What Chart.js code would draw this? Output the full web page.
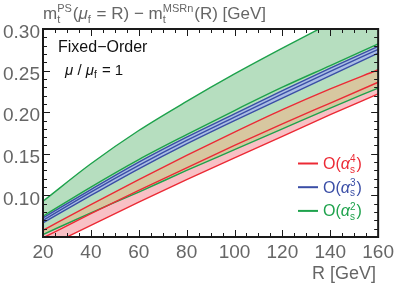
<!DOCTYPE html>
<html>
<head>
<meta charset="utf-8">
<script src="https://cdn.jsdelivr.net/npm/chart.js@4.4.0/dist/chart.umd.min.js"></script>
<style>
  html, body { margin: 0; padding: 0; background: #fff; }
  #wrap { width: 398px; height: 283px; }
</style>
</head>
<body>
<div id="wrap"><canvas id="chart"></canvas></div>
<script>
// R values [GeV] and the three orders (upper / central / lower of each band)
const energies = [20, 40, 60, 80, 100, 120, 140, 160];
const o2Upper   = [0.093, 0.138, 0.178, 0.213, 0.246, 0.277, 0.307, 0.336];
const o2Central = [0.075, 0.110, 0.143, 0.173, 0.202, 0.230, 0.256, 0.282];
const o2Lower   = [0.053, 0.079, 0.104, 0.130, 0.155, 0.180, 0.205, 0.229];
const o3Upper   = [0.073, 0.107, 0.140, 0.170, 0.198, 0.226, 0.253, 0.279];
const o3Central = [0.070, 0.104, 0.136, 0.166, 0.194, 0.222, 0.249, 0.2755];
const o3Lower   = [0.067, 0.100, 0.132, 0.162, 0.190, 0.217, 0.244, 0.271];
const o4Upper   = [0.058, 0.089, 0.119, 0.148, 0.176, 0.203, 0.228, 0.251];
const o4Central = [0.049, 0.078, 0.106, 0.133, 0.160, 0.186, 0.211, 0.236];
const o4Lower   = [0.036, 0.064, 0.092, 0.119, 0.145, 0.171, 0.197, 0.222];
const xTicks = [20, 40, 60, 80, 100, 120, 140, 160];
const yTicks = [0.10, 0.15, 0.20, 0.25, 0.30];

const GREEN = "#1ea24c", RED = "#ec2a35", BLUE = "#3a4ea6";
const GRAY = "#666666";
const FONT = "'Liberation Sans', Arial, sans-serif";

const pts = arr => energies.map((r, i) => ({ x: r, y: arr[i] }));

function line(label, arr, color, order, extra) {
  return Object.assign({
    label: label,
    data: pts(arr),
    borderColor: color,
    borderWidth: 1.4,
    pointRadius: 0,
    fill: false,
    cubicInterpolationMode: "monotone",
    order: order
  }, extra || {});
}

// rich text: plain parts and stacked sup/sub parts
function drawRich(ctx, x, y, parts, color, size) {
  ctx.fillStyle = color;
  ctx.textAlign = "left";
  ctx.textBaseline = "alphabetic";
  const small = Math.round(size * 0.65);
  for (const p of parts) {
    if (p.sup !== undefined || p.sub !== undefined) {
      ctx.font = `${small}px ${FONT}`;
      let w = 0;
      if (p.sup) { ctx.fillText(p.sup, x, y - size * 0.42); w = Math.max(w, ctx.measureText(p.sup).width); }
      if (p.sub) { ctx.fillText(p.sub, x, y + size * 0.22); w = Math.max(w, ctx.measureText(p.sub).width); }
      x += w + 1;
    } else {
      ctx.font = `${p.italic ? "italic " : ""}${size}px ${FONT}`;
      ctx.fillText(p.t, x, y);
      x += ctx.measureText(p.t).width;
    }
  }
}

const framePlugin = {
  id: "frame",
  afterDatasetsDraw(chart) {
    const { ctx, chartArea: a, scales: { x, y } } = chart;
    ctx.save();
    ctx.strokeStyle = "#1a1a1a";
    ctx.lineWidth = 1;
    ctx.beginPath();
    for (let v = 20; v <= 160; v += 5) {
      const px = Math.round(x.getPixelForValue(v)) + 0.5;
      const len = v % 20 === 0 ? 7 : 4;
      ctx.moveTo(px, a.bottom); ctx.lineTo(px, a.bottom - len);
      ctx.moveTo(px, a.top); ctx.lineTo(px, a.top + len);
    }
    for (let k = 5; k <= 30; k++) {
      const py = Math.round(y.getPixelForValue(k / 100)) + 0.5;
      const len = k % 5 === 0 ? 7 : 4;
      ctx.moveTo(a.left, py); ctx.lineTo(a.left + len, py);
      ctx.moveTo(a.right, py); ctx.lineTo(a.right - len, py);
    }
    ctx.stroke();
    ctx.lineWidth = 2;
    ctx.strokeRect(a.left, a.top, a.right - a.left, a.bottom - a.top);
    ctx.restore();
  },
  afterDraw(chart) {
    const { ctx, chartArea: a } = chart;
    ctx.save();
    // title
    drawRich(ctx, a.left, 19, [
      { t: "m" }, { sup: "PS", sub: "t" }, { t: "(" }, { t: "μ", italic: true }, { sub: "f" },
      { t: " = R) − m" }, { sup: "MSRn", sub: "t" }, { t: "(R) [GeV]" }
    ], GRAY, 17);
    // x axis label
    ctx.font = `18px ${FONT}`;
    ctx.fillStyle = GRAY;
    ctx.textAlign = "right";
    ctx.textBaseline = "alphabetic";
    ctx.fillText("R [GeV]", 376, 279);
    // inset labels
    ctx.fillStyle = "#111";
    ctx.textAlign = "left";
    ctx.font = `16px ${FONT}`;
    ctx.fillText("Fixed−Order", a.left + 15, 52);
    drawRich(ctx, a.left + 22, 75, [
      { t: "μ", italic: true }, { t: " / " }, { t: "μ", italic: true }, { sub: "f" }, { t: " = 1" }
    ], "#111", 15);
    // legend
    const items = [["4", RED], ["3", BLUE], ["2", GREEN]];
    items.forEach(([n, c], i) => {
      const ly = 163.5 + i * 23.7;
      ctx.strokeStyle = c;
      ctx.lineWidth = 2;
      ctx.beginPath(); ctx.moveTo(298, ly); ctx.lineTo(318, ly); ctx.stroke();
      drawRich(ctx, 323, ly + 5.5, [
        { t: "O(" }, { t: "α", italic: true }, { sup: n, sub: "s" }, { t: ")" }
      ], c, 16);
    });
    ctx.restore();
  }
};

const ctx = document.getElementById("chart").getContext("2d");
new Chart(ctx, {
  type: "line",
  data: {
    datasets: [
      line("O2 upper", o2Upper, GREEN, 9, { fill: { target: 1, above: "#b6debf", below: "#b6debf" } }), // 0
      line("O2 lower", o2Lower, GREEN, 9),                                                                // 1
      line("O4 upper", o4Upper, RED, 8, { fill: { target: 4, above: "#f8c0c5", below: "#f8c0c5" } }),   // 2
      line("O4 central", o4Central, RED, 2),                                                              // 3
      line("O4 lower", o4Lower, RED, 8),                                                                  // 4
      line("O4/O2 overlap", o4Upper, "rgba(0,0,0,0)", 7, { borderWidth: 0, fill: { target: 1, above: "#d7c7a0", below: "#d7c7a0" } }), // 5
      line("O3 upper", o3Upper, BLUE, 5, { fill: { target: 8, above: "#a9bde4", below: "#a9bde4" } }),  // 6
      line("O3 central", o3Central, BLUE, 4),                                                             // 7
      line("O3 lower", o3Lower, BLUE, 5),                                                                 // 8
      line("O2 central", o2Central, GREEN, 1)                                                             // 9
    ]
  },
  options: {
    responsive: true,
    maintainAspectRatio: false,
    animation: false,
    layout: { padding: { top: 29, right: 17, left: 0, bottom: 0 } },
    plugins: {
      legend: { display: false },
      tooltip: { enabled: false },
      filler: { drawTime: "beforeDatasetsDraw" }
    },
    scales: {
      x: {
        type: "linear",
        min: 20,
        max: 160,
        afterBuildTicks: s => { s.ticks = xTicks.map(v => ({ value: v })); },
        afterFit: s => { s.height = 46; },
        grid: { display: false, drawTicks: false },
        border: { display: false },
        ticks: { color: GRAY, font: { family: FONT, size: 19 }, padding: 4, maxRotation: 0 }
      },
      y: {
        min: 0.05,
        max: 0.30,
        afterBuildTicks: s => { s.ticks = yTicks.map(v => ({ value: v })); },
        afterFit: s => { s.width = 43; },
        grid: { display: false, drawTicks: false },
        border: { display: false },
        ticks: {
          color: GRAY,
          font: { family: FONT, size: 19 },
          padding: 3,
          labelOffset: 4,
          callback: v => v.toFixed(2)
        }
      }
    }
  },
  plugins: [framePlugin]
});
</script>
</body>
</html>
